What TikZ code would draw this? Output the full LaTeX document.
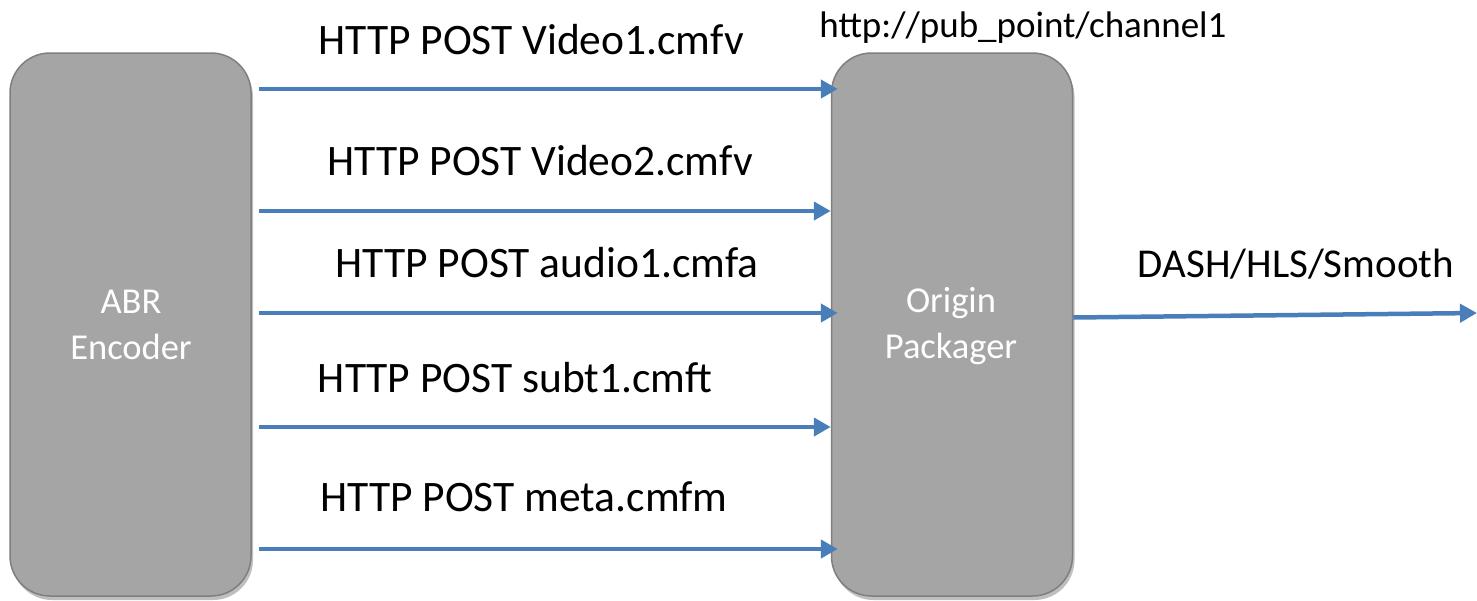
\documentclass[tikz,border=0pt]{standalone}
\usepackage{fontspec}
\setmainfont{Carlito}
\usetikzlibrary{arrows.meta,shadows,calc}
\definecolor{boxfill}{HTML}{A5A5A5}
\definecolor{boxline}{HTML}{7F7F7F}
\definecolor{flowblue}{HTML}{4A7EBB}
\tikzset{
  procbox/.style={draw=boxline, line width=1.5pt, fill=boxfill, rounded corners=40pt,
    minimum width=241pt, minimum height=543pt, inner sep=0pt,
    drop shadow={shadow xshift=2pt, shadow yshift=-4pt, opacity=0.25, fill=black}},
  boxtext/.style={text=white, font=\fontsize{36.5}{46}\selectfont, align=center},
  flow/.style={draw=flowblue, line width=4.5pt, -{Triangle[length=17pt,width=18pt]}},
  lbl/.style={font=\fontsize{43.5}{50}\selectfont, inner sep=0pt, anchor=center},
}
\begin{document}
\begin{tikzpicture}[x=1pt,y=-1pt]
\useasboundingbox (0,0) rectangle (1477,600);
\node[procbox] (enc) at (130.5,324.5) {};
\node[procbox] (org) at (952,324.5) {};
\node[boxtext] (enct) at (131,325) {ABR\\Encoder};
\node[boxtext] (orgt) at (951,326) {Origin\\Packager};

\coordinate (y1) at (0,89);
\coordinate (y2) at (0,211);
\coordinate (y3) at (0,313);
\coordinate (y4) at (0,427);
\coordinate (y5) at (0,549);
\coordinate (outend) at (1477,313);

\draw[flow] ([xshift=7]enc.east |- y1) -- ([xshift=7]org.west |- y1);
\draw[flow] ([xshift=7]enc.east |- y2) -- ([xshift=0]org.west |- y2);
\draw[flow] ([xshift=7]enc.east |- y3) -- ([xshift=7]org.west |- y3);
\draw[flow] ([xshift=7]enc.east |- y4) -- ([xshift=0]org.west |- y4);
\draw[flow] ([xshift=7]enc.east |- y5) -- ([xshift=7]org.west |- y5);
\draw[flow] ([yshift=7]org.east) -- (outend);

\node[lbl] (l1) at (531,40) {HTTP POST Video1.cmfv};
\node[lbl] (l2) at (540,161) {HTTP POST Video2.cmfv};
\node[lbl] (l3) at (547,263) {HTTP POST audio1.cmfa};
\node[lbl] (l4) at (515,378) {HTTP POST subt1.cmft};
\node[lbl] (l5) at (524,497) {HTTP POST meta.cmfm};
\node[lbl, font=\fontsize{37}{44}\selectfont] (url) at (1023,28) {http://pub\_point/channel1};
\node[lbl, font=\fontsize{41}{48}\selectfont] (dash) at (1296,264) {DASH/HLS/Smooth};
\end{tikzpicture}
\end{document}
